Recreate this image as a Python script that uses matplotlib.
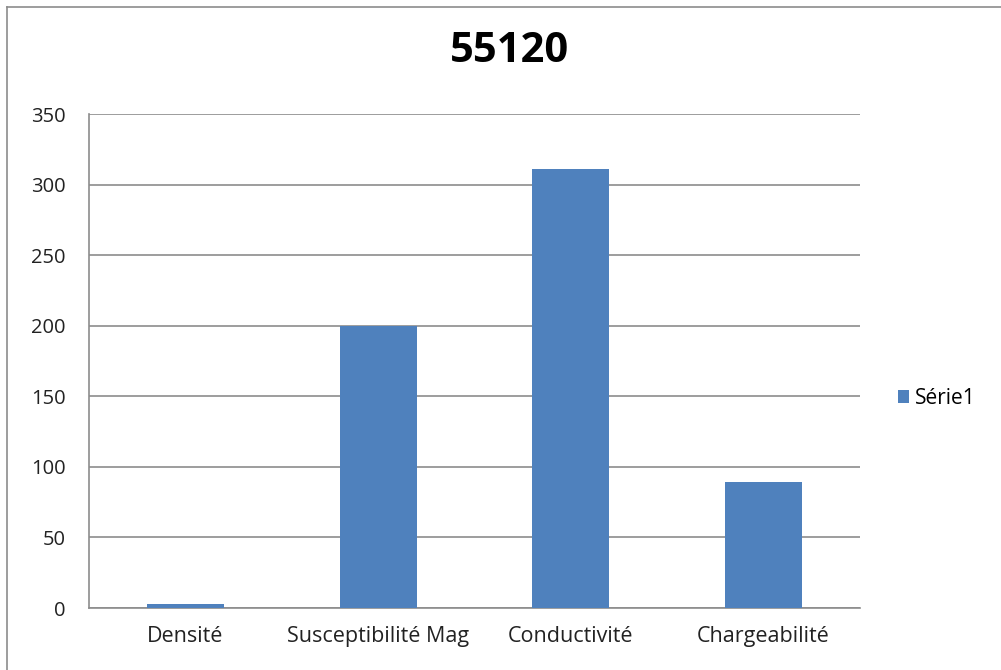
import matplotlib
matplotlib.use("Agg")
import matplotlib.pyplot as plt
from matplotlib.lines import Line2D
from matplotlib.patches import Patch

title = "55120"
categories = ["Densité", "Susceptibilité Mag", "Conductivité", "Chargeabilité"]
values = [3, 200, 311, 89]
series_name = "Série1"
y_ticks = [0, 50, 100, 150, 200, 250, 300, 350]

plt.rcParams["font.family"] = ["Open Sans", "DejaVu Sans"]

fig = plt.figure(figsize=(10.01, 6.70), dpi=100)
fig.patch.set_facecolor("white")

# chart frame (top and left edges visible)
fig.add_artist(Line2D([7 / 1001, 7 / 1001], [0, 1 - 7 / 670], transform=fig.transFigure,
                      color="#8c8c8c", lw=1.2))
fig.add_artist(Line2D([7 / 1001, 1], [1 - 7 / 670, 1 - 7 / 670], transform=fig.transFigure,
                      color="#8c8c8c", lw=1.2))

ax = fig.add_axes([89 / 1001, 1 - 608 / 670, 771 / 1001, 494 / 670])
x = range(len(categories))
ax.bar(x, values, width=0.4, color="#4F81BD", zorder=3)

ax.set_xlim(-0.5, len(categories) - 0.5)
ax.set_ylim(0, 350)
ax.set_yticks(y_ticks)
ax.set_yticklabels([str(v) for v in y_ticks], fontsize=14.5, color="#222222")
ax.set_xticks(list(x))
ax.set_xticklabels(categories, fontsize=15.5, color="#222222")
ax.tick_params(axis="both", length=0)
ax.tick_params(axis="y", pad=17)
ax.tick_params(axis="x", pad=13)
ax.grid(axis="y", color="#8c8c8c", lw=1.2, zorder=0)

for side in ["top", "right"]:
    ax.spines[side].set_visible(False)
for side in ["left", "bottom"]:
    ax.spines[side].set_color("#8c8c8c")
    ax.spines[side].set_linewidth(1.2)

fig.text(510 / 1001, 1 - 52 / 670, title, ha="center", va="center",
         fontsize=30, fontweight="bold", color="black")

fig.legend(handles=[Patch(facecolor="#4F81BD", label=series_name)],
           loc="center left", bbox_to_anchor=(898 / 1001, 1 - 398 / 670),
           frameon=False, fontsize=15, handlelength=0.55, handleheight=0.6,
           handletextpad=0.25, borderpad=0, borderaxespad=0)

fig.savefig("out.png", dpi=100, facecolor="white")
